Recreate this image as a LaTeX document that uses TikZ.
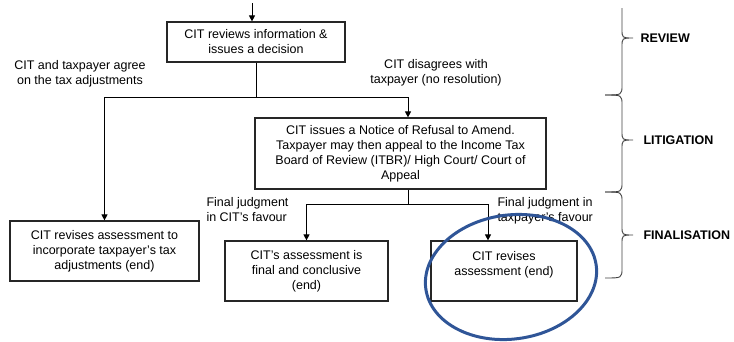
\documentclass[tikz,border=0pt]{standalone}
\usepackage{fontspec}
\setmainfont{Liberation Sans}
\usetikzlibrary{arrows.meta}
\definecolor{ringblue}{RGB}{47,85,151}
\tikzset{
  box/.style={draw=black!85, line width=1.2pt, align=center, inner sep=0pt,
              font=\fontsize{12.5}{15}\selectfont},
  lbl/.style={inner sep=0pt, font=\fontsize{12.5}{15}\selectfont},
  stage/.style={inner sep=0pt, anchor=west, font=\bfseries\fontsize{12.5}{15}\selectfont},
  arr/.style={-{Triangle[length=6pt,width=6pt]}},
  bracket/.style={draw=black!75, line width=0.9pt}
}
% #1 top, #2 tip, #3 bottom (spine at x=622)
\newcommand\stagebrace[3]{%
  \draw[bracket] (605,#1) .. controls (622,#1) .. (622,#1+10) -- (622,#2-9)
    .. controls (622,#2) .. (633,#2) .. controls (622,#2) .. (622,#2+9)
    -- (622,#3-10) .. controls (622,#3) .. (605,#3);}
\begin{document}
\begin{tikzpicture}[x=1pt, y=-1pt, line width=1pt]
  \useasboundingbox (0,0) rectangle (734,341);
  % boxes
  \node[box, minimum width=178pt, minimum height=40pt] (review) at (256,42)
    {CIT reviews information \&\\issues a decision};
  \node[box, minimum width=189pt, minimum height=60pt] (agree) at (104.5,251)
    {CIT revises assessment to\\incorporate taxpayer's tax\\adjustments (end)};
  \node[box, minimum width=291pt, minimum height=71pt] (refuse) at (400.5,153.5)
    {CIT issues a Notice of Refusal to Amend.\\Taxpayer may then appeal to the Income Tax\\Board of Review (ITBR)/ High Court/ Court of\\Appeal};
  \node[box, minimum width=163pt, minimum height=60pt] (final) at (306.5,271)
    {CIT's assessment is\\final and conclusive\\(end)};
  \node[box, minimum width=146pt, minimum height=60pt] (revise) at (504,271)
    {CIT revises\\assessment (end)\\\mbox{}};
  % labels on the branches
  \node[lbl, align=center] (agreetxt) at (80,73.5) {CIT and taxpayer agree\\on the tax adjustments};
  \node[lbl, align=center] (disagreetxt) at (436,73) {CIT disagrees with\\taxpayer (no resolution)};
  \node[lbl, align=left, anchor=west] (citfav) at (206,209.5) {Final judgment\\in CIT's favour};
  \node[lbl, align=left, anchor=west] (taxfav) at (497,211) {Final judgment in\\taxpayer's favour};
  % connectors
  \coordinate (start) at (252,3);
  \coordinate (fork) at (256,97);
  \coordinate (fork2) at (408,204);
  \draw[arr] (start) -- (start |- review.north);
  \draw (review.south) -- (fork);
  \draw[arr] (fork) -| (agree.north);
  \draw[arr] (fork) -| ([xshift=7.5pt]refuse.north);
  \draw (refuse.south -| fork2) -- (fork2);
  \draw[arr] (fork2) -| (final.north);
  \draw[arr] (fork2) -| ([xshift=-16pt]revise.north);
  % stages
  \draw[bracket] (622,8) -- (622,29) .. controls (622,38) .. (633,38)
    .. controls (622,38) .. (622,47) -- (622,85) .. controls (622,95) .. (605,95);
  \stagebrace{95}{140}{192}
  \stagebrace{192}{235}{278}
  \node[stage] (rev) at (640,38) {REVIEW};
  \node[stage] (lit) at (643,140) {LITIGATION};
  \node[stage] (fin) at (643,235) {FINALISATION};
  % ring
  \draw[ringblue, line width=3pt, rotate around={8:(511,277)}] (511,277) ellipse [x radius=86pt, y radius=62pt];
\end{tikzpicture}
\end{document}
